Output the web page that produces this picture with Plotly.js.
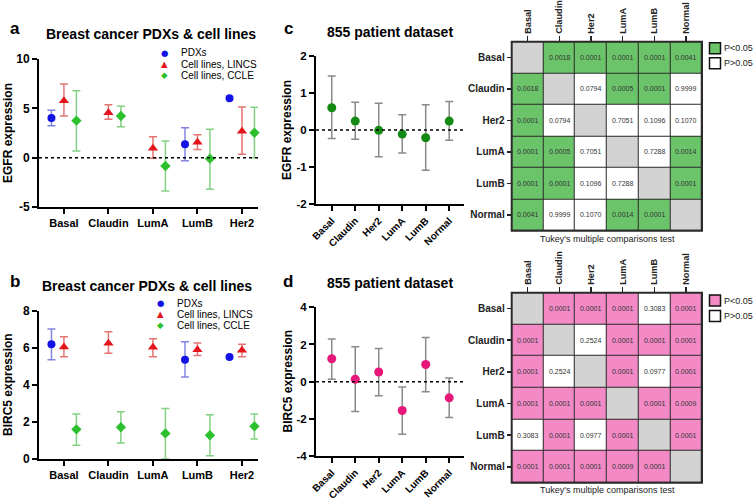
<!DOCTYPE html>
<html><head><meta charset="utf-8">
<script src="https://cdn.plot.ly/plotly-3.0.1.min.js"></script>
<style>html,body{margin:0;padding:0;background:#fff}</style>
</head><body><div id="chart" style="width:754px;height:500px"></div>
<script>
// ---------- data ----------
const cellCats = ['Basal','Claudin','LumA','LumB','Her2'];
const pdxCats = ['Basal','LumB','Her2'];

// Panel a: EGFR
const egfrPdxMean = [4.02, 1.35, 6.01];
const egfrPdxLo   = [3.24, -0.30, NaN];
const egfrPdxHi   = [4.80, 3.04, NaN];
const egfrLincsMean = [5.78, 4.56, 0.95, 1.55, 2.67];
const egfrLincsLo   = [4.22, 3.89, -0.07, 0.84, 0.34];
const egfrLincsHi   = [7.47, 5.37, 2.13, 2.33, 5.14];
const egfrCcleMean  = [3.75, 4.22, -0.84, -0.10, 2.53];
const egfrCcleLo    = [0.68, 3.14, -3.38, -3.21, 0.00];
const egfrCcleHi    = [6.79, 5.20, 1.69, 2.87, 5.10];

// Panel b: BIRC5
const bircPdxMean = [6.19, 5.36, 5.50];
const bircPdxLo   = [5.36, 4.42, NaN];
const bircPdxHi   = [7.01, 6.33, NaN];
const bircLincsMean = [6.04, 6.24, 6.03, 5.90, 5.86];
const bircLincsLo   = [5.52, 5.70, 5.52, 5.59, 5.52];
const bircLincsHi   = [6.60, 6.87, 6.49, 6.26, 6.19];
const bircCcleMean  = [1.60, 1.71, 1.38, 1.28, 1.76];
const bircCcleLo    = [0.74, 0.86, 0.00, 0.18, 1.08];
const bircCcleHi    = [2.43, 2.55, 2.73, 2.39, 2.43];

// Panels c/d: 855 patient dataset
const patCats = ['Basal','Claudin','Her2','LumA','LumB','Normal'];
const patEgfrMean = [0.60, 0.24, -0.01, -0.11, -0.21, 0.24];
const patEgfrLo   = [-0.23, -0.25, -0.72, -0.62, -1.09, -0.28];
const patEgfrHi   = [1.46, 0.75, 0.72, 0.41, 0.68, 0.77];
const patBircMean = [1.23, 0.13, 0.52, -1.55, 0.92, -0.87];
const patBircLo   = [0.13, -1.60, -0.76, -2.83, -0.54, -1.93];
const patBircHi   = [2.29, 1.88, 1.79, -0.29, 2.38, 0.20];

// Tukey p-values (null = diagonal)
const egfrP = [
  [null, 0.0018, 0.0001, 0.0001, 0.0001, 0.0041],
  [0.0018, null, 0.0794, 0.0005, 0.0001, 0.9999],
  [0.0001, 0.0794, null, 0.7051, 0.1096, 0.1070],
  [0.0001, 0.0005, 0.7051, null, 0.7288, 0.0014],
  [0.0001, 0.0001, 0.1096, 0.7288, null, 0.0001],
  [0.0041, 0.9999, 0.1070, 0.0014, 0.0001, null]
];
const bircP = [
  [null, 0.0001, 0.0001, 0.0001, 0.3083, 0.0001],
  [0.0001, null, 0.2524, 0.0001, 0.0001, 0.0001],
  [0.0001, 0.2524, null, 0.0001, 0.0977, 0.0001],
  [0.0001, 0.0001, 0.0001, null, 0.0001, 0.0009],
  [0.3083, 0.0001, 0.0977, 0.0001, null, 0.0001],
  [0.0001, 0.0001, 0.0001, 0.0009, 0.0001, null]
];

const yTicksA = [-5, 0, 5, 10];  const yTextA = ['-5','0','5','10'];
const yTicksB = [0, 2, 4, 6, 8];  const yTextB = ['0','2','4','6','8'];
const yTicksC = [-2, -1, 0, 1, 2]; const yTextC = ['-2','-1','0','1','2'];
const yTicksD = [-4, -2, 0, 2, 4]; const yTextD = ['-4','-2','0','2','4'];

// ---------- helpers ----------
const W = 754, H = 500;
const px = x => x / W;
const py = y => 1 - y / H;
const FONT = 'Liberation Sans, Arial, sans-serif';
const plus  = (m, hi) => m.map((v, i) => hi[i] - v);
const minus = (m, lo) => m.map((v, i) => v - lo[i]);

const C_PDX = '#1212e6', C_LINCS = '#e3141c', C_CCLE = '#2cc02c';
const E_PDX = 'rgba(90,90,215,0.75)', E_LINCS = 'rgba(225,80,80,0.8)', E_CCLE = 'rgba(110,200,110,0.85)';
const GREEN = '#6cc46a', PINK = '#f38ac6', GREY = '#d3d3d3';

function series(xa, ya, x, m, lo, hi, color, ecolor, symbol, og, size) {
  return {
    type: 'scatter', mode: 'markers', xaxis: xa, yaxis: ya,
    x: x, y: m, offsetgroup: og, alignmentgroup: xa,
    marker: {color: color, size: size, symbol: symbol},
    error_y: {type: 'data', symmetric: false, array: plus(m, hi), arrayminus: minus(m, lo),
              color: ecolor, thickness: 1.5, width: 4},
    showlegend: false, hoverinfo: 'skip', cliponaxis: false
  };
}
function patSeries(xa, ya, m, lo, hi, color) {
  return {
    type: 'scatter', mode: 'markers', xaxis: xa, yaxis: ya,
    x: patCats, y: m,
    marker: {color: color, size: 9},
    error_y: {type: 'data', symmetric: false, array: plus(m, hi), arrayminus: minus(m, lo),
              color: '#8a8a8a', thickness: 1.5, width: 4},
    showlegend: false, hoverinfo: 'skip', cliponaxis: false
  };
}
function heat(xa, ya, P, sigColor) {
  const z = P.map(r => r.map(v => v === null ? 2 : (v < 0.05 ? 0 : 1)));
  const t = P.map(r => r.map(v => v === null ? '' : v.toFixed(4)));
  return {
    type: 'heatmap', xaxis: xa, yaxis: ya, x: patCats, y: patCats, z: z, text: t,
    texttemplate: '%{text}', textfont: {family: FONT, size: 7, color: '#333'},
    zmin: 0, zmax: 2, showscale: false, xgap: 1, ygap: 1, hoverinfo: 'skip',
    colorscale: [[0, sigColor], [0.333, sigColor], [0.333, '#ffffff'], [0.666, '#ffffff'], [0.666, GREY], [1, GREY]]
  };
}

const traces = [
  series('x', 'y', pdxCats, egfrPdxMean, egfrPdxLo, egfrPdxHi, C_PDX, E_PDX, 'circle', 'g1', 8),
  series('x', 'y', cellCats, egfrLincsMean, egfrLincsLo, egfrLincsHi, C_LINCS, E_LINCS, 'triangle-up', 'g2', 9),
  series('x', 'y', cellCats, egfrCcleMean, egfrCcleLo, egfrCcleHi, C_CCLE, E_CCLE, 'diamond', 'g3', 8),
  series('x2', 'y2', pdxCats, bircPdxMean, bircPdxLo, bircPdxHi, C_PDX, E_PDX, 'circle', 'g1', 8),
  series('x2', 'y2', cellCats, bircLincsMean, bircLincsLo, bircLincsHi, C_LINCS, E_LINCS, 'triangle-up', 'g2', 9),
  series('x2', 'y2', cellCats, bircCcleMean, bircCcleLo, bircCcleHi, C_CCLE, E_CCLE, 'diamond', 'g3', 8),
  patSeries('x3', 'y3', patEgfrMean, patEgfrLo, patEgfrHi, '#138a13'),
  patSeries('x4', 'y4', patBircMean, patBircLo, patBircHi, '#e8187a'),
  heat('x5', 'y5', egfrP, GREEN),
  heat('x6', 'y6', bircP, PINK)
];

const tickBold = s => ({family: FONT, size: s, color: '#000', weight: 'bold'});
function xCat(dom, anchor, cats, range, angle, fs) {
  return {domain: dom, anchor: anchor, type: 'category', categoryorder: 'array', categoryarray: cats,
    range: range, showline: true, linewidth: 2, linecolor: '#000', ticks: 'outside', ticklen: 5,
    tickwidth: 2, tickcolor: '#000', tickfont: tickBold(fs), tickangle: angle, showgrid: false,
    zeroline: false, automargin: false, fixedrange: true};
}
function yLin(dom, anchor, range, tv, tt, fs) {
  return {domain: dom, anchor: anchor, range: range, tickvals: tv, ticktext: tt,
    showline: true, linewidth: 2, linecolor: '#000', ticks: 'outside', ticklen: 5, tickwidth: 2,
    tickcolor: '#000', tickfont: tickBold(fs), showgrid: false, zeroline: false, automargin: false,
    fixedrange: true};
}
function xHeat(dom, anchor) {
  return {domain: dom, anchor: anchor, type: 'category', categoryorder: 'array', categoryarray: patCats,
    range: [-0.5, 5.5], side: 'top', tickangle: -90, ticks: 'outside', ticklen: 5, tickwidth: 1.5,
    tickcolor: '#222', tickfont: {family: FONT, size: 9.2, color: '#222', weight: 'bold'},
    showline: false, showgrid: false, zeroline: false, automargin: false, fixedrange: true};
}
function yHeat(dom, anchor) {
  return {domain: dom, anchor: anchor, type: 'category', categoryorder: 'array', categoryarray: patCats,
    range: [5.5, -0.5], ticks: 'outside', ticklen: 4, tickwidth: 1.5,
    tickcolor: '#222', tickfont: {family: FONT, size: 10, color: '#222', weight: 'bold'},
    showline: false, showgrid: false, zeroline: false, automargin: false, fixedrange: true};
}

const domA_x = [px(39), px(258)];
const domC_x = [px(316), px(464)];
const domH_x = [px(511.7), px(702)];

const layout = {
  width: W, height: H, margin: {l: 0, r: 0, t: 0, b: 0},
  paper_bgcolor: '#fff', plot_bgcolor: '#fff',
  font: {family: FONT, color: '#000'},
  scattermode: 'group', scattergap: 0.16,
  showlegend: false,
  xaxis:  xCat(domA_x, 'y', cellCats, [-0.56, 4.36], 0, 11),
  yaxis:  yLin([py(207), py(59)], 'x', [-5, 10], yTicksA, yTextA, 12),
  xaxis2: xCat(domA_x, 'y2', cellCats, [-0.56, 4.36], 0, 11),
  yaxis2: yLin([py(459), py(310.7)], 'x2', [0, 8], yTicksB, yTextB, 12),
  xaxis3: xCat(domC_x, 'y3', patCats, [-0.67, 5.63], -45, 10),
  yaxis3: yLin([py(204), py(56)], 'x3', [-2, 2], yTicksC, yTextC, 11.5),
  xaxis4: xCat(domC_x, 'y4', patCats, [-0.67, 5.63], -45, 10),
  yaxis4: yLin([py(456), py(307.3)], 'x4', [-4, 4], yTicksD, yTextD, 11.5),
  xaxis5: xHeat(domH_x, 'y5'),
  yaxis5: yHeat([py(230.7), py(41.7)], 'x5'),
  xaxis6: xHeat(domH_x, 'y6'),
  yaxis6: yHeat([py(482.7), py(292.7)], 'x6'),
  shapes: [],
  annotations: []
};

// zero reference lines
[['x', 'y'], ['x3', 'y3'], ['x4', 'y4']].forEach(([xa, ya]) => {
  layout.shapes.push({type: 'line', xref: xa + ' domain', yref: ya, x0: 0, x1: 1, y0: 0, y1: 0,
    line: {color: '#000', width: 1.5, dash: 'dot'}, layer: 'above'});
});
// heatmap grid background & border
[['x5', 'y5'], ['x6', 'y6']].forEach(([xa, ya]) => {
  layout.shapes.push({type: 'rect', xref: xa + ' domain', yref: ya + ' domain', x0: 0, x1: 1, y0: 0, y1: 1,
    fillcolor: '#2a2a2a', line: {width: 0}, layer: 'below'});
  layout.shapes.push({type: 'rect', xref: xa + ' domain', yref: ya + ' domain', x0: 0, x1: 1, y0: 0, y1: 1,
    fillcolor: 'rgba(0,0,0,0)', line: {color: '#2a2a2a', width: 2}, layer: 'above'});
});
// heatmap legend swatches
function swatch(cx, cy, color) {
  layout.shapes.push({type: 'rect', xref: 'paper', yref: 'paper',
    x0: px(cx - 5.5), x1: px(cx + 5.5), y0: py(cy + 5.5), y1: py(cy - 5.5),
    fillcolor: color, line: {color: '#111', width: 1.5}});
}
swatch(715, 48.3, GREEN); swatch(715, 63.3, '#ffffff');
swatch(715, 300.5, PINK); swatch(715, 316, '#ffffff');

function ann(text, x, y, size, opts) {
  layout.annotations.push(Object.assign({text: text, xref: 'paper', yref: 'paper', x: px(x), y: py(y),
    showarrow: false, xanchor: 'center', yanchor: 'middle',
    font: {family: FONT, size: size, color: '#000'}}, opts || {}));
}
const bold = (s) => ({family: FONT, size: s, color: '#000', weight: 'bold'});
// panel letters
ann('a', 15, 28, 17, {font: bold(17)});
ann('b', 15, 281, 17, {font: bold(17)});
ann('c', 288, 28, 17, {font: bold(17)});
ann('d', 288, 281, 17, {font: bold(17)});
// titles
ann('Breast cancer PDXs & cell lines', 151, 34, 14, {font: bold(14)});
ann('Breast cancer PDXs & cell lines', 147, 286, 14, {font: bold(14)});
ann('855 patient dataset', 390, 32, 14, {font: bold(14)});
ann('855 patient dataset', 390, 283, 14, {font: bold(14)});
// axis titles
ann('EGFR expression', 8, 133, 12, {font: bold(12), textangle: -90});
ann('BIRC5 expression', 8, 385, 12, {font: bold(12), textangle: -90});
ann('EGFR expression', 287, 130, 12, {font: bold(12), textangle: -90});
ann('BIRC5 expression', 287, 381.5, 12, {font: bold(12), textangle: -90});
// Tukey captions
ann("Tukey's multiple comparisons test", 607, 239, 9, {font: {family: FONT, size: 9, color: '#222'}});
ann("Tukey's multiple comparisons test", 607, 490, 9, {font: {family: FONT, size: 9, color: '#222'}});
// heatmap legend labels
const legTxt = ['P<0.05', 'P>0.05'];
const legFont = {family: FONT, size: 9, color: '#222'};
ann(legTxt[0], 723, 48.3, 9, {xanchor: 'left', borderpad: 0, font: legFont});
ann(legTxt[1], 723, 63.3, 9, {xanchor: 'left', borderpad: 0, font: legFont});
ann(legTxt[0], 723, 300.5, 9, {xanchor: 'left', borderpad: 0, font: legFont});
ann(legTxt[1], 723, 316, 9, {xanchor: 'left', borderpad: 0, font: legFont});
// series legends (panels a, b)
const seriesNames = ['PDXs', 'Cell lines, LINCS', 'Cell lines, CCLE'];
const seriesGlyph = ['\u25CF', '\u25B2', '\u25C6'];
const seriesColor = [C_PDX, C_LINCS, C_CCLE];
[[164, 180, [53, 64, 75]], [160.5, 175.5, [303.3, 314, 325]]].forEach(([gx, tx, ys]) => {
  seriesNames.forEach((n, i) => {
    ann(seriesGlyph[i], gx, ys[i], 8, {borderpad: 0, font: {family: 'DejaVu Sans', size: 8.5, color: seriesColor[i]}});
    ann(n, tx, ys[i], 10, {xanchor: 'left', borderpad: 0, font: {family: FONT, size: 10, color: '#000'}});
  });
});

Plotly.newPlot('chart', traces, layout, {staticPlot: true, displayModeBar: false});
</script></body></html>
